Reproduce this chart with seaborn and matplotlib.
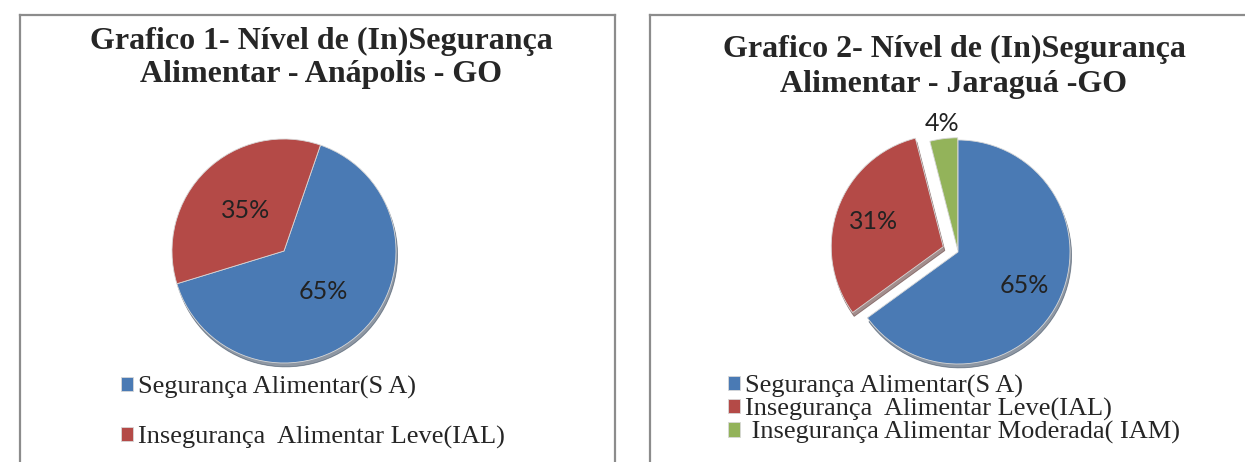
import matplotlib
matplotlib.use("Agg")
import matplotlib.pyplot as plt
import seaborn as sns
import numpy as np

sns.set_theme(style="white")
plt.rcParams['font.family'] = ['Liberation Serif', 'DejaVu Serif']

# ---- data ----
labels_1 = ["Segurança Alimentar(S A)", "Insegurança  Alimentar Leve(IAL)"]
values_1 = [65, 35]
title_1 = "Grafico 1- Nível de (In)Segurança\nAlimentar - Anápolis - GO"

labels_2 = ["Segurança Alimentar(S A)", "Insegurança  Alimentar Leve(IAL)",
            " Insegurança Alimentar Moderada( IAM)"]
values_2 = [65, 31, 4]
title_2 = "Grafico 2- Nível de (In)Segurança\nAlimentar - Jaraguá -GO"

colors = ["#4a7ab4", "#b44a47", "#93b35a"]

W, H = 1245, 462
fig = plt.figure(figsize=(W / 100, H / 100), dpi=100)

def fx(px):
    return px / W

def fy(py):
    return 1 - py / H

# panel frames
for left, width in [(20, 595), (650, 620)]:
    fa = fig.add_axes([fx(left), 0, width / W, (H - 15) / H])
    fa.set_xticks([]); fa.set_yticks([])
    fa.patch.set_alpha(0)
    for s in ["top", "left", "right"]:
        fa.spines[s].set_visible(True)
        fa.spines[s].set_color("#8c8c8c")
        fa.spines[s].set_linewidth(1.6)
    fa.spines["bottom"].set_visible(False)

L = 1.3
S = 2 * L * 112  # pixel size of pie axes

def pie_axes(cx, cy):
    ax = fig.add_axes([fx(cx - S / 2), (H - cy - S / 2) / H, S / W, S / H])
    return ax

def finish(ax):
    ax.set_xlim(-L, L); ax.set_ylim(-L, L)
    ax.set_aspect("equal")
    ax.axis("off")

pct_font = dict(family=["Lato", "DejaVu Sans"], size=18, color="#222222")

# ---- chart 1 ----
ax1 = pie_axes(284, 251)
w1, t1, a1 = ax1.pie(values_1, colors=colors[:2], startangle=71, counterclock=False,
                     autopct="%1.0f%%", pctdistance=0.5,
                     wedgeprops=dict(edgecolor="#d8d8d8", linewidth=0.6),
                     textprops=pct_font,
                     shadow=dict(ox=0.01, oy=-0.025, shade=0.6))
finish(ax1)
fig.text(fx(321), fy(58), title_1, ha="center", va="center", fontsize=23,
         fontweight="bold", linespacing=1.2)
fig.legend(w1, labels_1, loc="upper left", bbox_to_anchor=(fx(121), fy(376)),
           frameon=False, fontsize=19, handlelength=0.45, handleheight=0.45,
           handletextpad=0.2, labelspacing=1.0, borderpad=0, borderaxespad=0)

# ---- chart 2 ----
ax2 = pie_axes(958, 252)
w2, t2, a2 = ax2.pie(values_2, colors=colors, startangle=90, counterclock=False,
                     autopct="%1.0f%%", pctdistance=0.66, explode=[0, 0.14, 0.02],
                     wedgeprops=dict(edgecolor="#d8d8d8", linewidth=0.6),
                     textprops=pct_font,
                     shadow=dict(ox=0.01, oy=-0.025, shade=0.6))
finish(ax2)
# place the small-slice label outside its wedge
wg = w2[2]
ang = np.deg2rad((wg.theta1 + wg.theta2) / 2)
cxg, cyg = wg.center
a2[2].set_position((cxg + 1.14 * np.cos(ang), cyg + 1.14 * np.sin(ang)))
fig.text(fx(954), fy(67), title_2, ha="center", va="center", fontsize=23,
         fontweight="bold", linespacing=1.25)
fig.legend(w2, labels_2, loc="upper left", bbox_to_anchor=(fx(728), fy(375)),
           frameon=False, fontsize=19, handlelength=0.45, handleheight=0.45,
           handletextpad=0.2, labelspacing=0.0, borderpad=0, borderaxespad=0)

fig.savefig("out.png", dpi=100, facecolor="white")
